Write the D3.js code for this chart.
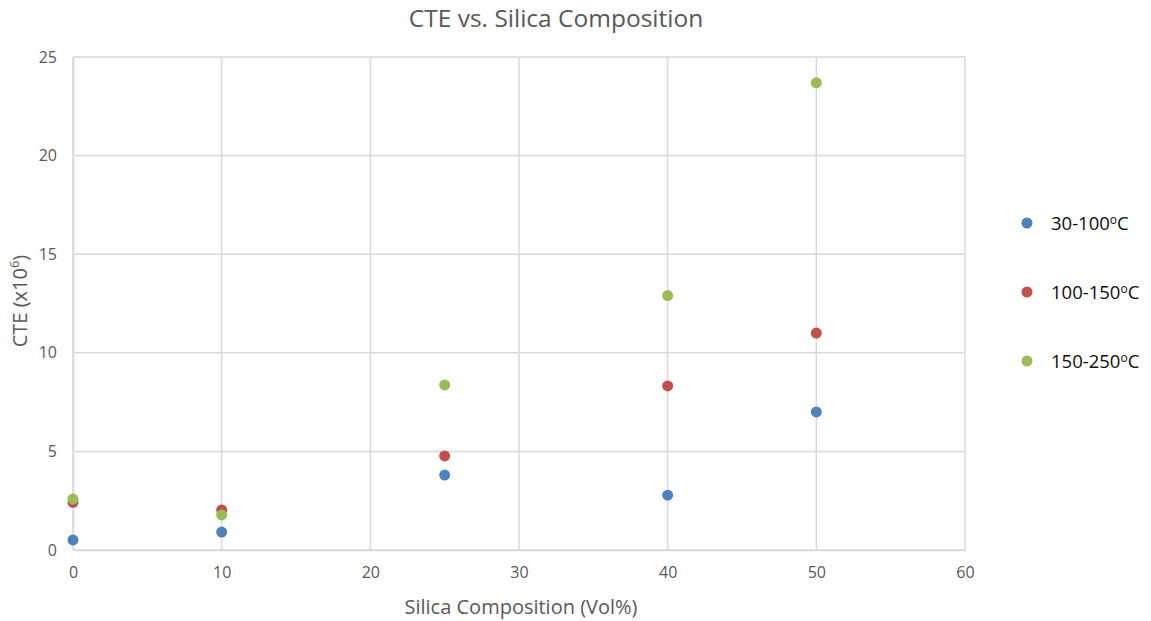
<!DOCTYPE html>
<html>
<head>
<meta charset="utf-8">
<script src="https://cdn.jsdelivr.net/npm/d3@7"></script>
<style>
  body { margin: 0; background: #fff; }
  text { font-family: "Open Sans", "Liberation Sans", sans-serif; }
</style>
</head>
<body>
<div class="canvas"></div>
<script>
const silica = [0, 10, 25, 40, 50];
const cte30to100 = [0.51, 0.91, 3.8, 2.78, 7.0];
const cte100to150 = [2.42, 2.03, 4.77, 8.32, 11.0];
const cte150to250 = [2.58, 1.78, 8.37, 12.9, 23.7];
const seriesNames = ["30-100", "100-150", "150-250"];
const seriesColours = ["#4f81bd", "#c0504d", "#9bbb59"];
const xTicks = [0, 10, 20, 30, 40, 50, 60];
const yTicks = [0, 5, 10, 15, 20, 25];

const series = [cte30to100, cte100to150, cte150to250].map((vals, k) => ({
  name: seriesNames[k],
  colour: seriesColours[k],
  points: vals.map((v, i) => ({ x: silica[i], y: v }))
}));

const dims = { w: 1151, h: 621 };
const plot = { left: 73, right: 965, top: 57, bottom: 550 };

const svg = d3
  .select(".canvas")
  .append("svg")
  .attr("width", dims.w)
  .attr("height", dims.h);

const x = d3.scaleLinear().domain([0, 60]).range([plot.left, plot.right]);
const y = d3.scaleLinear().domain([0, 25]).range([plot.bottom, plot.top]);

// gridlines
svg.append("g")
  .selectAll("line")
  .data(xTicks)
  .enter()
  .append("line")
  .attr("x1", d => x(d)).attr("x2", d => x(d))
  .attr("y1", plot.top).attr("y2", plot.bottom)
  .attr("stroke", "#d9d9d9")
  .attr("stroke-width", 1.5);

svg.append("g")
  .selectAll("line")
  .data(yTicks)
  .enter()
  .append("line")
  .attr("x1", plot.left).attr("x2", plot.right)
  .attr("y1", d => y(d)).attr("y2", d => y(d))
  .attr("stroke", "#d9d9d9")
  .attr("stroke-width", 1.5);

// axes
const xAxis = svg.append("g")
  .attr("transform", `translate(0, ${plot.bottom})`)
  .call(d3.axisBottom(x).tickValues(xTicks).tickSize(0).tickPadding(17));
const yAxis = svg.append("g")
  .attr("transform", `translate(${plot.left}, 0)`)
  .call(d3.axisLeft(y).tickValues(yTicks).tickSize(0).tickPadding(16));

[xAxis, yAxis].forEach(a => {
  a.select(".domain").attr("stroke", "#d9d9d9").attr("stroke-width", 1.5);
  a.selectAll("text")
    .attr("fill", "#595959")
    .style("font-size", "16px")
    .style("font-family", "'Open Sans', sans-serif");
});

// points
series.forEach(s => {
  svg.append("g")
    .selectAll("circle")
    .data(s.points)
    .enter()
    .append("circle")
    .attr("cx", d => x(d.x))
    .attr("cy", d => y(d.y))
    .attr("r", 5.5)
    .attr("fill", s.colour);
});

// title
svg.append("text")
  .attr("x", 556)
  .attr("y", 27)
  .attr("text-anchor", "middle")
  .attr("fill", "#595959")
  .style("font-size", "24.5px")
  .text("CTE vs. Silica Composition");

// axis titles
svg.append("text")
  .attr("x", 521)
  .attr("y", 614)
  .attr("text-anchor", "middle")
  .attr("fill", "#595959")
  .style("font-size", "20px")
  .text("Silica Composition (Vol%)");

const yTitle = svg.append("text")
  .attr("transform", `translate(27, 301) rotate(-90)`)
  .attr("text-anchor", "middle")
  .attr("fill", "#595959")
  .style("font-size", "20px");
yTitle.append("tspan").text("CTE (x10");
yTitle.append("tspan").attr("dy", -8).style("font-size", "13px").text("6");
yTitle.append("tspan").attr("dy", 8).text(")");

// legend
const legend = svg.append("g").attr("transform", "translate(1027, 223)");
const items = legend.selectAll("g")
  .data(series)
  .enter()
  .append("g")
  .attr("transform", (d, i) => `translate(0, ${i * 69})`);

items.append("circle").attr("r", 5.5).attr("fill", d => d.colour);
const lt = items.append("text")
  .attr("x", 24)
  .attr("y", 6.5)
  .attr("fill", "#0d0d0d")
  .style("font-size", "18.5px");
lt.append("tspan").text(d => d.name);
lt.append("tspan").attr("dy", -6).style("font-size", "12px").text("o");
lt.append("tspan").attr("dy", 6).text("C");
</script>
</body>
</html>
